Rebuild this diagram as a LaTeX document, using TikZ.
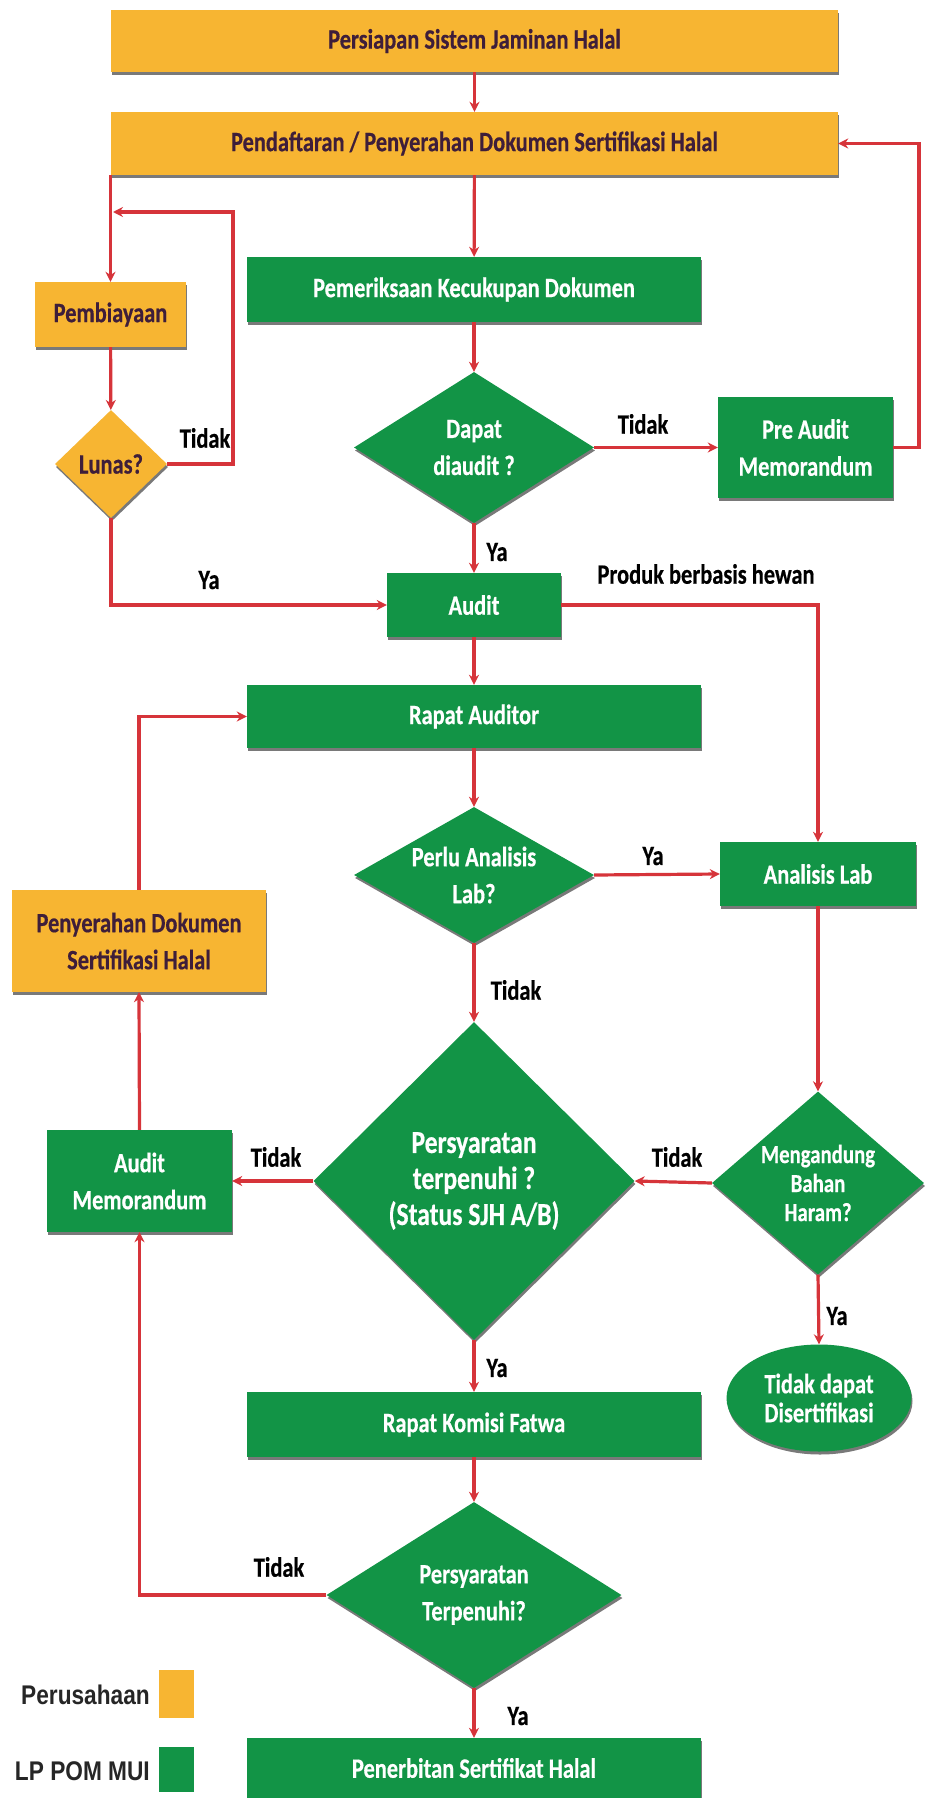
\documentclass[tikz,border=0pt]{standalone}
\usepackage{fontspec}
\usetikzlibrary{arrows.meta,shapes.geometric,shadows}
\newfontfamily\cf[FakeStretch=0.8,FakeBold=0.5]{Carlito}
\newfontfamily\lf[FakeStretch=0.84]{Liberation Sans}
\definecolor{orng}{RGB}{247,181,50}
\definecolor{grn}{RGB}{18,148,70}
\definecolor{redc}{RGB}{214,52,58}
\definecolor{purp}{RGB}{62,30,58}
\tikzset{
  shd/.style={drop shadow={shadow xshift=1pt,shadow yshift=-3pt,fill=black!75,opacity=0.7}},
  txt/.style={font=\cf\bfseries\fontsize{28}{37}\selectfont,align=center,inner sep=0pt},
  obox/.style={txt,rectangle,fill=orng,text=purp,shd},
  gbox/.style={txt,rectangle,fill=grn,text=white,shd},
  gdia/.style={txt,diamond,fill=grn,text=white,shd},
  odia/.style={txt,diamond,fill=orng,text=purp,shd},
  lbl/.style={font=\cf\bfseries\fontsize{28}{30}\selectfont,text=black,inner sep=0pt},
  leg/.style={font=\lf\bfseries\fontsize{27}{30}\selectfont,text=black!85,inner sep=0pt},
  ln/.style={draw=redc,line width=3.2pt},
  arr/.style={ln,-{Stealth[length=10pt,width=10pt]}},
}
\begin{document}
\begin{tikzpicture}[x=1pt,y=-1pt]
\useasboundingbox (0,0) rectangle (924,1798);
% nodes
\node[obox,minimum width=727,minimum height=62] (b1) at (474.5,41) {Persiapan Sistem Jaminan Halal};
\node[obox,minimum width=727,minimum height=63] (b2) at (474.5,143.5) {Pendaftaran / Penyerahan Dokumen Sertifikasi Halal};
\node[obox,minimum width=151,minimum height=65] (pemb) at (110.5,314.5) {Pembiayaan};
\node[odia,minimum width=112,minimum height=108] (lunas) at (111,464) {Lunas?};
\node[gbox,minimum width=454,minimum height=65] (prk) at (474,289.5) {Pemeriksaan Kecukupan Dokumen};
\node[gdia,aspect=1.59,minimum width=240,minimum height=151] (dapat) at (474,447.5) {Dapat\\diaudit ?};
\node[gbox,minimum width=175,minimum height=101] (pre) at (805.5,447.5) {Pre Audit\\Memorandum};
\node[gbox,minimum width=174,minimum height=64] (audit) at (474,605) {Audit};
\node[gbox,minimum width=454,minimum height=63] (rapat) at (474,716.5) {Rapat Auditor};
\node[gdia,aspect=1.76,minimum width=240,minimum height=136] (perlu) at (474,875) {Perlu Analisis\\Lab?};
\node[gbox,minimum width=196,minimum height=64] (anl) at (818,874) {Analisis Lab};
\node[obox,minimum width=254,minimum height=102] (peny) at (139,941) {Penyerahan Dokumen\\Sertifikasi Halal};
\node[gdia,font=\cf\bfseries\fontsize{32}{36}\selectfont,minimum width=321,minimum height=318] (persy) at (474,1181) {Persyaratan\\terpenuhi ?\\(Status SJH A/B)};
\node[gdia,font=\cf\bfseries\fontsize{26}{29}\selectfont,aspect=1.16,minimum width=212,minimum height=183] (meng) at (818,1183) {Mengandung\\Bahan\\Haram?};
\node[gbox,minimum width=185,minimum height=102] (amemo) at (139.5,1181) {Audit\\Memorandum};
\node[txt,ellipse,fill=grn,text=white,shd,font=\cf\bfseries\fontsize{28}{29}\selectfont,minimum width=185,minimum height=107] (tdk) at (819,1398) {Tidak dapat\\Disertifikasi};
\node[gbox,minimum width=454,minimum height=65] (komisi) at (474,1424.5) {Rapat Komisi Fatwa};
\node[gdia,aspect=1.59,minimum width=295,minimum height=186] (persy2) at (474,1595) {Persyaratan\\Terpenuhi?};
\node[gbox,minimum width=454,minimum height=60] (terbit) at (474,1768) {Penerbitan Sertifikat Halal};
% legend
\node[leg,anchor=east] (lg1) at (150,1695) {Perusahaan};
\node[fill=orng,minimum width=35,minimum height=48,inner sep=0pt] (sw1) at (176,1694) {};
\node[leg,anchor=east] (lg2) at (150,1771) {LP POM MUI};
\node[fill=grn,minimum width=35,minimum height=45,inner sep=0pt] (sw2) at (176,1769.5) {};
% labels
\node[lbl] (l1) at (205,438) {Tidak};
\node[lbl] (l2) at (643,424) {Tidak};
\node[lbl] (l3) at (497,552) {Ya};
\node[lbl] (l4) at (209,580) {Ya};
\node[lbl] (l5) at (706,574) {Produk berbasis hewan};
\node[lbl] (l6) at (653,856) {Ya};
\node[lbl] (l7) at (516,990) {Tidak};
\node[lbl] (l8) at (276,1157) {Tidak};
\node[lbl] (l9) at (677,1157) {Tidak};
\node[lbl] (l10) at (837,1316) {Ya};
\node[lbl] (l11) at (497,1368) {Ya};
\node[lbl] (l12) at (279,1567) {Tidak};
\node[lbl] (l13) at (518,1716) {Ya};
% helper coordinates
\coordinate (lpc) at (233,212);
\coordinate (lpe) at (113,212);
\coordinate (rc) at (919,447.5);
% connectors
\draw[arr] (b1) -- (b2);
\draw[arr] (b2.south -| pemb.north) -- (pemb.north);
\draw[arr] (b2) -- (prk);
\draw[arr] (pemb) -- (lunas);
\draw[arr] (lunas.east) -| (lpc) -- (lpe);
\draw[arr] (prk) -- (dapat);
\draw[arr] (dapat.east) -- (pre.west);
\draw[arr] (pre.east) -- (rc) |- (b2.east);
\draw[arr] (dapat.south) -- (audit.north);
\draw[arr] (lunas.south) |- (audit.west);
\draw[arr] (audit.east) -| (anl.north);
\draw[arr] (audit) -- (rapat);
\draw[arr] (rapat.south) -- (perlu.north);
\draw[arr] (perlu.east) -- (anl.west);
\draw[arr] (perlu.south) -- (persy.north);
\draw[arr] (anl.south) -- (meng.north);
\draw[arr] (meng.west) -- (persy.east);
\draw[arr] (persy.west) -- (amemo.east);
\draw[arr] (amemo.north) -- (peny.south);
\draw[arr] (peny.north) |- (rapat.west);
\draw[arr] (meng.south) -- (tdk.north);
\draw[arr] (persy.south) -- (komisi.north);
\draw[arr] (komisi.south) -- (persy2.north);
\draw[arr] (persy2.west) -| (amemo.south);
\draw[arr] (persy2.south) -- (terbit.north);
\end{tikzpicture}
\end{document}
